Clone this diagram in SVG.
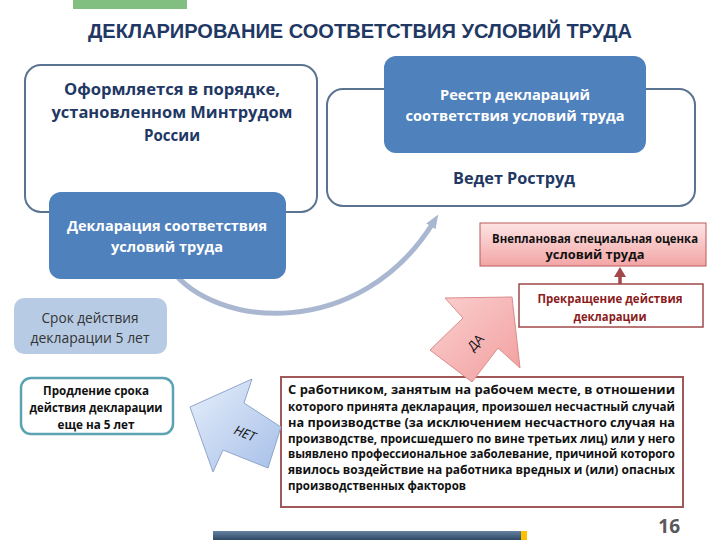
<svg xmlns="http://www.w3.org/2000/svg" width="720" height="540" viewBox="0 0 720 540">
<style>
text{font-family:"Open Sans","Noto Sans","DejaVu Sans",sans-serif;text-anchor:middle}
.title{font-family:"Liberation Sans",Arial,sans-serif;font-size:21px;font-weight:bold;fill:#1F3864}
.navy{font-size:16px;font-weight:bold;fill:#1F3864}
.wh{font-size:14.5px;font-weight:bold;fill:#FFFFFF}
.reg{font-size:14px;fill:#333333}
.blk{font-size:12.5px;font-weight:bold;fill:#111111}
.red{font-size:12.5px;font-weight:bold;fill:#8B1C1C}
.body{font-size:11.5px;font-weight:bold;fill:#111111;text-anchor:start}
.outline{fill:none;stroke:#5A7390;stroke-width:2}
.blue{fill:#4F81BD}
</style>
<defs>
<linearGradient id="pinkGrad" x1="0" y1="0" x2="0" y2="1"><stop offset="0" stop-color="#FDE4E4"/><stop offset="1" stop-color="#F3A5A5"/></linearGradient>
<linearGradient id="daGrad" x1="0" y1="0" x2="1" y2="1"><stop offset="0" stop-color="#FBD0D0"/><stop offset="1" stop-color="#F29E9E"/></linearGradient>
<linearGradient id="netGrad" x1="0" y1="0" x2="1" y2="1"><stop offset="0" stop-color="#E6EEFB"/><stop offset="1" stop-color="#A6BFE8"/></linearGradient>
<linearGradient id="barGrad" x1="0" y1="0" x2="0" y2="1"><stop offset="0" stop-color="#6483A2"/><stop offset="1" stop-color="#2F4965"/></linearGradient>
<marker id="curveHead" markerUnits="userSpaceOnUse" markerWidth="16" markerHeight="12" refX="4" refY="5.5" orient="auto"><path d="M0,0 L14,5.5 L0,11 Z" fill="#A9B7D0"/></marker>
<marker id="redHead" markerUnits="userSpaceOnUse" markerWidth="14" markerHeight="12" refX="3" refY="6" orient="auto"><path d="M0,0 L10,6 L0,12 Z" fill="#A0484A"/></marker>
</defs>

<rect width="720" height="540" fill="#FFFFFF"/>
<rect x="73" y="0" width="114" height="9" fill="#80BF80"/>
<text class="title" x="360" y="38" textLength="544" lengthAdjust="spacingAndGlyphs">ДЕКЛАРИРОВАНИЕ СООТВЕТСТВИЯ УСЛОВИЙ ТРУДА</text>

<g id="connectors">
<path d="M170,268 C215,330 360,340 433,223" fill="none" stroke="#A9B7D0" stroke-width="5" marker-end="url(#curveHead)"/>
<line x1="620" y1="284" x2="620" y2="274" stroke="#A0484A" stroke-width="3.5" marker-end="url(#redHead)"/>
</g>

<g id="order">
<rect class="outline" x="25" y="65" width="292" height="147" rx="16"/>
<text class="navy" x="172" y="95" textLength="216" lengthAdjust="spacingAndGlyphs">Оформляется в порядке,</text>
<text class="navy" x="172" y="118" textLength="241" lengthAdjust="spacingAndGlyphs">установленном Минтрудом</text>
<text class="navy" x="172" y="141" textLength="56" lengthAdjust="spacingAndGlyphs">России</text>
</g>

<g id="rostrud">
<rect class="outline" x="327" y="89" width="368" height="117" rx="16"/>
<text class="navy" x="514" y="184" font-size="17" textLength="122" lengthAdjust="spacingAndGlyphs">Ведет Роструд</text>
</g>

<g id="registry">
<rect class="blue" x="384" y="56" width="262" height="97" rx="12"/>
<text class="wh" x="515" y="100" textLength="150" lengthAdjust="spacingAndGlyphs">Реестр деклараций</text>
<text class="wh" x="515" y="121" textLength="219" lengthAdjust="spacingAndGlyphs">соответствия условий труда</text>
</g>

<g id="declaration">
<rect class="blue" x="49" y="192" width="237" height="87" rx="12"/>
<text class="wh" x="167" y="231" textLength="200" lengthAdjust="spacingAndGlyphs">Декларация соответствия</text>
<text class="wh" x="167" y="252" textLength="112" lengthAdjust="spacingAndGlyphs">условий труда</text>
</g>

<g id="unplanned">
<rect x="480" y="223" width="226" height="43" fill="url(#pinkGrad)" stroke="#B85A5A" stroke-width="1"/>
<text class="blk" x="595" y="243" font-size="12" textLength="206" lengthAdjust="spacingAndGlyphs">Внеплановая специальная оценка</text>
<text class="blk" x="595" y="259" font-size="12" textLength="99" lengthAdjust="spacingAndGlyphs">условий труда</text>
</g>

<g id="termination">
<rect x="519" y="284" width="184" height="43" fill="#FFFFFF" stroke="#A0484A" stroke-width="1.5"/>
<text class="red" x="610" y="303" textLength="145" lengthAdjust="spacingAndGlyphs">Прекращение действия</text>
<text class="red" x="610" y="321" textLength="73" lengthAdjust="spacingAndGlyphs">декларации</text>
</g>

<g id="term">
<rect x="14" y="298" width="153" height="56" rx="10" fill="#B8CBE4"/>
<text class="reg" x="90" y="323" textLength="97" lengthAdjust="spacingAndGlyphs">Срок действия</text>
<text class="reg" x="90" y="343" textLength="119" lengthAdjust="spacingAndGlyphs">декларации 5 лет</text>
</g>

<g id="extension">
<rect x="21" y="378" width="152" height="56" rx="10" fill="#FFFFFF" stroke="#5BA3B3" stroke-width="2.5"/>
<text class="blk" x="96" y="395" textLength="106" lengthAdjust="spacingAndGlyphs">Продление срока</text>
<text class="blk" x="96" y="412" textLength="133" lengthAdjust="spacingAndGlyphs">действия декларации</text>
<text class="blk" x="96" y="429" textLength="77" lengthAdjust="spacingAndGlyphs">еще на 5 лет</text>
</g>

<g id="condition">
<rect x="281" y="377" width="402" height="130" fill="#FFFFFF" stroke="#A05858" stroke-width="2"/>
<text class="body" x="288" y="394" textLength="387" lengthAdjust="spacingAndGlyphs">С работником, занятым на рабочем месте, в отношении</text>
<text class="body" x="288" y="411" textLength="387" lengthAdjust="spacingAndGlyphs">которого принята декларация, произошел несчастный случай</text>
<text class="body" x="288" y="427" textLength="387" lengthAdjust="spacingAndGlyphs">на производстве (за исключением несчастного случая на</text>
<text class="body" x="288" y="443" textLength="387" lengthAdjust="spacingAndGlyphs">производстве, происшедшего по вине третьих лиц) или у него</text>
<text class="body" x="288" y="458" textLength="387" lengthAdjust="spacingAndGlyphs">выявлено профессиональное заболевание, причиной которого</text>
<text class="body" x="288" y="474" textLength="387" lengthAdjust="spacingAndGlyphs">явилось воздействие на работника вредных и (или) опасных</text>
<text class="body" x="288" y="490" textLength="178" lengthAdjust="spacingAndGlyphs">производственных факторов</text>
</g>

<g id="yes">
<polygon points="512,297 520,368 498,348 472,382 430,350 463,318 445,298" fill="url(#daGrad)" stroke="#D98C8C" stroke-width="1"/>
<text x="476" y="347" font-size="13" fill="#111111" transform="rotate(-48 476 343)">ДА</text>
</g>

<g id="no">
<polygon points="190,407 252,379 244,403 281,427 268,468 223,450 213,472" fill="url(#netGrad)" stroke="#8FA6CC" stroke-width="1"/>
<text x="245" y="438" font-size="13" font-style="italic" fill="#111111" transform="rotate(22 245 433)">НЕТ</text>
</g>

<rect x="213" y="531" width="308" height="9" fill="url(#barGrad)"/>
<rect x="521" y="531" width="6" height="9" fill="#FFC000"/>
<text x="680" y="533" font-family="Liberation Sans, Arial, sans-serif" font-size="19" font-weight="bold" fill="#595959" style="text-anchor:end">16</text>
</svg>
